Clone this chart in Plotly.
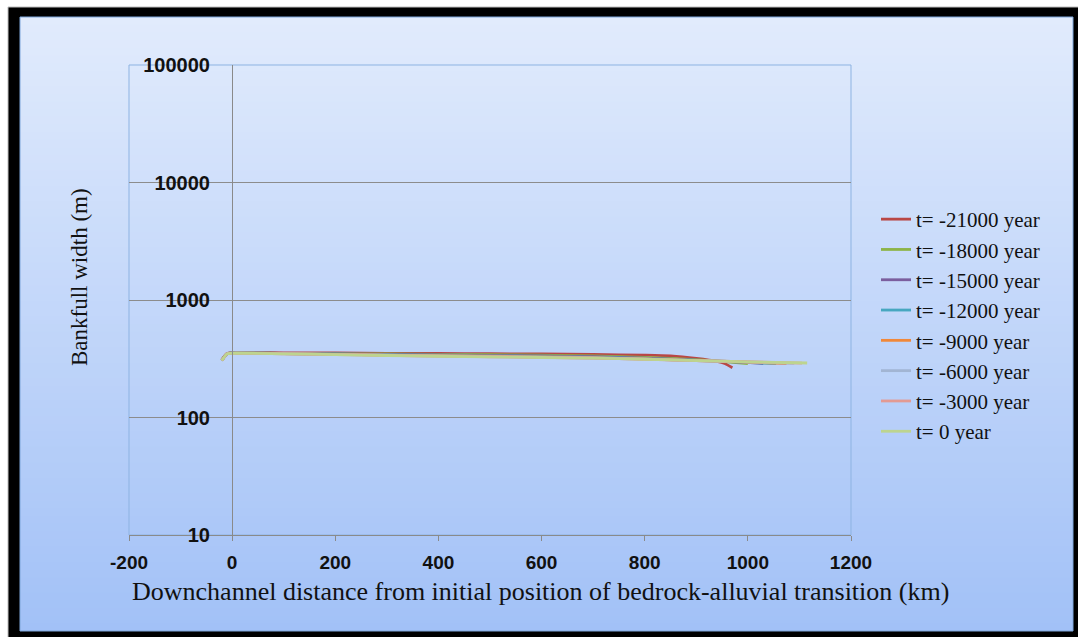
import plotly.graph_objects as go

# Downchannel distance (km) and bankfull width (m) for each time slice
series_names = ["t= -21000 year", "t= -18000 year", "t= -15000 year", "t= -12000 year",
                "t= -9000 year", "t= -6000 year", "t= -3000 year", "t= 0 year"]
series_colors = ["#B94745", "#8DB446", "#7B5E9E", "#47A7C0",
                 "#F0883A", "#A2B5D3", "#E39A93", "#BDD48F"]

dist_21000 = [-20, -10, 0, 100, 200, 300, 400, 500, 600, 700, 800, 850, 900, 940, 955, 970]
width_21000 = [310, 350, 356, 355, 354, 352, 351, 349, 347, 344, 339, 334, 318, 300, 288, 265]

dist_18000 = [-20, -10, 0, 100, 200, 300, 400, 500, 600, 700, 800, 900, 960, 1000]
width_18000 = [308, 349, 355, 352, 350, 347, 345, 342, 339, 334, 325, 310, 298, 288]

dist_15000 = [-20, -10, 0, 100, 200, 300, 400, 500, 600, 700, 800, 900, 1000, 1030]
width_15000 = [307, 348, 354, 351, 348, 344, 341, 338, 334, 329, 320, 308, 294, 287]

dist_12000 = [-20, -10, 0, 100, 200, 300, 400, 500, 600, 700, 800, 900, 1000, 1055]
width_12000 = [306, 348, 354, 350, 346, 342, 338, 334, 330, 325, 317, 306, 295, 287]

dist_9000 = [-20, -10, 0, 100, 200, 300, 400, 500, 600, 700, 800, 900, 1000, 1075]
width_9000 = [306, 348, 353, 349, 345, 340, 336, 332, 328, 323, 315, 305, 296, 288]

dist_6000 = [-20, -10, 0, 100, 200, 300, 400, 500, 600, 700, 800, 900, 1000, 1090]
width_6000 = [305, 348, 353, 349, 344, 339, 334, 330, 326, 321, 314, 305, 297, 289]

dist_3000 = [-20, -10, 0, 100, 200, 300, 400, 500, 600, 700, 800, 900, 1000, 1105]
width_3000 = [305, 348, 352, 348, 343, 338, 333, 329, 325, 320, 313, 305, 298, 290]

dist_0 = [-20, -10, 0, 100, 200, 300, 400, 500, 600, 700, 800, 900, 1000, 1115]
width_0 = [305, 348, 352, 348, 343, 337, 332, 328, 324, 320, 313, 305, 298, 291]

all_dist = [dist_21000, dist_18000, dist_15000, dist_12000, dist_9000, dist_6000, dist_3000, dist_0]
all_width = [width_21000, width_18000, width_15000, width_12000, width_9000, width_6000, width_3000, width_0]

x_ticks = [-200, 0, 200, 400, 600, 800, 1000, 1200]
x_tick_text = ["-200", "0", "200", "400", "600", "800", "1000", "1200"]
y_ticks = [10, 100, 1000, 10000, 100000]
y_tick_text = ["10", "100", "1000", "10000", "100000"]

W, H = 1078, 637
L, R, T, B = 129, 227, 65, 102
PW, PH = W - L - R, H - T - B


def px(xp):
    return (xp - L) / PW


def py(yp):
    return (H - B - yp) / PH


fig = go.Figure()
for name, color, xs, ys in zip(series_names, series_colors, all_dist, all_width):
    fig.add_trace(go.Scatter(x=xs, y=ys, mode="lines", name=name,
                             line=dict(color=color, width=2.8, shape="spline", smoothing=0.6)))

shapes = []
# outer frame with dark shadow
shapes.append(dict(type="rect", xref="paper", yref="paper", layer="below",
                   x0=px(8), x1=px(W + 2), y0=py(H + 2), y1=py(7),
                   fillcolor="#000000", line=dict(color="#BDBDBD", width=1)))
# vertical gradient fill of the chart area
top_rgb = (225, 235, 252)
bot_rgb = (162, 193, 247)
y_top, y_bot = 17, 631
n_bands = 80
for i in range(n_bands):
    f = i / (n_bands - 1)
    c = tuple(round(top_rgb[k] + (bot_rgb[k] - top_rgb[k]) * f) for k in range(3))
    y0 = y_top + (y_bot - y_top) * i / n_bands
    y1 = y_top + (y_bot - y_top) * (i + 1) / n_bands
    if i < n_bands - 1:
        y1 += 2
    shapes.append(dict(type="rect", xref="paper", yref="paper", layer="below",
                       x0=px(20), x1=px(1073), y0=py(y1), y1=py(y0),
                       fillcolor="rgb(%d,%d,%d)" % c, line=dict(width=0)))
shapes.append(dict(type="rect", xref="paper", yref="paper", layer="below",
                   x0=px(20), x1=px(1073), y0=py(631), y1=py(17),
                   fillcolor="rgba(0,0,0,0)", line=dict(color="#7FA6DA", width=1)))
# plot area border
shapes.append(dict(type="rect", xref="paper", yref="paper", layer="below",
                   x0=0, x1=1, y0=0, y1=1,
                   fillcolor="rgba(0,0,0,0)", line=dict(color="#8DB3E2", width=1)))

tick_font = dict(family="Liberation Sans", size=19, color="#111111", weight="bold")
serif = "Liberation Serif"

fig.update_layout(
    width=W, height=H,
    margin=dict(l=L, r=R, t=T, b=B),
    paper_bgcolor="white",
    plot_bgcolor="rgba(0,0,0,0)",
    shapes=shapes,
    showlegend=True,
    legend=dict(x=px(876), y=py(199), xanchor="left", yanchor="top",
                bgcolor="rgba(0,0,0,0)", itemwidth=30,
                font=dict(family=serif, size=21, color="#111111"),
                tracegroupgap=0),
    xaxis=dict(range=[-200, 1200], tickvals=x_ticks, ticktext=x_tick_text,
               showgrid=False, zeroline=False,
               showline=True, linecolor="#8A8A8A", linewidth=1,
               ticks="outside", ticklen=5, tickcolor="#8A8A8A", ticklabelstandoff=5,
               tickfont=tick_font, domain=[0, 1]),
    yaxis=dict(type="log", range=[1, 5], tickvals=y_ticks, ticktext=y_tick_text,
               anchor="free", position=px(232), showgrid=True, gridcolor="#8C8C8C",
               gridwidth=1, zeroline=False, showline=True, linecolor="#8A8A8A",
               linewidth=1, ticks="", ticklabelstandoff=18,
               tickfont=dict(family="Liberation Sans", size=20, color="#111111", weight="bold")),
    annotations=[
        dict(text="Downchannel distance from initial position of bedrock-alluvial transition (km)",
             xref="paper", yref="paper", x=px(540), y=py(591), xanchor="center", yanchor="middle",
             showarrow=False, font=dict(family=serif, size=26, color="#111111")),
        dict(text="Bankfull width (m)", xref="paper", yref="paper", x=px(79), y=py(277),
             xanchor="center", yanchor="middle", textangle=-90, showarrow=False,
             font=dict(family=serif, size=23, color="#111111")),
    ],
)

fig.write_html("out.html")
